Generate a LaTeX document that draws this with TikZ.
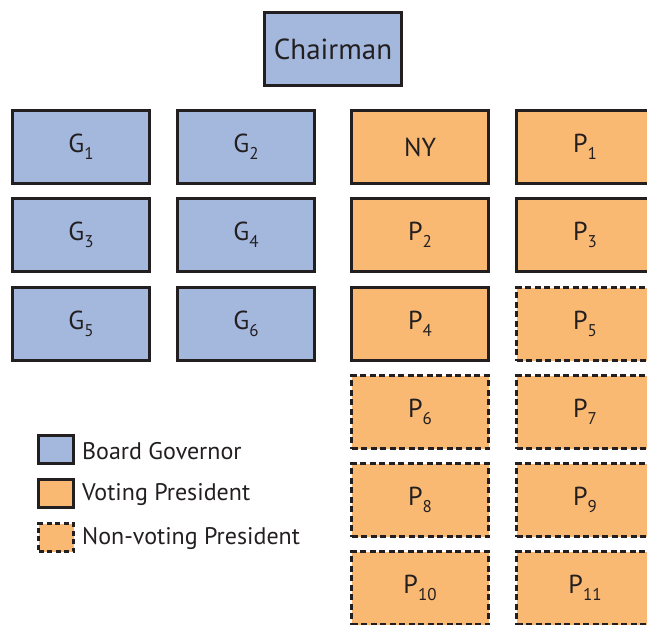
\documentclass[tikz,border=0pt]{standalone}
\usepackage{fontspec}
\setmainfont{PT Sans}
\definecolor{govblue}{HTML}{A4B8DE}
\definecolor{presorange}{HTML}{F9B973}
\definecolor{edgegray}{HTML}{231F20}
\newcommand{\lowix}[1]{\raisebox{-0.28em}{\fontsize{17}{17}\selectfont #1}}
\tikzset{
  box/.style={draw=edgegray, line width=3pt, minimum width=137pt, minimum height=73pt,
    inner sep=0pt, font=\fontsize{26}{26}\selectfont, text=edgegray},
  gov/.style={box, fill=govblue},
  vote/.style={box, fill=presorange},
  nonvote/.style={box, fill=presorange, dash pattern=on 6pt off 3.5pt},
  legbox/.style={draw=edgegray, line width=3pt, minimum width=35pt, minimum height=28pt, inner sep=0pt},
  legtext/.style={anchor=west, inner sep=0pt, font=\fontsize{24}{24}\selectfont, text=edgegray}
}
\begin{document}
\begin{tikzpicture}[x=1pt, y=-1pt]
\useasboundingbox (0,0) rectangle (647,624);
\clip (0,0) rectangle (647,624);
\node[gov, font=\fontsize{29}{29}\selectfont] (chair) at (333,49) {Chairman};
% governors
\node[gov] (g1) at (81,147) {G\lowix{1}};
\node[gov] (g2) at (246,147) {G\lowix{2}};
\node[gov] (g3) at (81,235) {G\lowix{3}};
\node[gov] (g4) at (246,235) {G\lowix{4}};
\node[gov] (g5) at (81,324) {G\lowix{5}};
\node[gov] (g6) at (246,324) {G\lowix{6}};
% presidents
\node[vote] (ny) at (420,147) {NY};
\node[vote] (p1) at (585,147) {P\lowix{1}};
\node[vote] (p2) at (420,235) {P\lowix{2}};
\node[vote] (p3) at (585,235) {P\lowix{3}};
\node[vote] (p4) at (420,324) {P\lowix{4}};
\node[nonvote] (p5) at (585,324) {P\lowix{5}};
\node[nonvote] (p6) at (420,412) {P\lowix{6}};
\node[nonvote] (p7) at (585,412) {P\lowix{7}};
\node[nonvote] (p8) at (420,500) {P\lowix{8}};
\node[nonvote] (p9) at (585,500) {P\lowix{9}};
\node[nonvote] (p10) at (420,588) {P\lowix{10}};
\node[nonvote] (p11) at (585,588) {P\lowix{11}};
% legend
\node[legbox, fill=govblue] (lg) at (56,449.5) {};
\node[legbox, fill=presorange] (lv) at (56,493.5) {};
\node[legbox, fill=presorange, dash pattern=on 5pt off 3.5pt] (ln) at (56,537.5) {};
\node[legtext] (tg) at (82,451) {Board Governor};
\node[legtext] (tv) at (82,495) {Voting President};
\node[legtext] (tn) at (82,539) {Non-voting President};
\end{tikzpicture}
\end{document}
